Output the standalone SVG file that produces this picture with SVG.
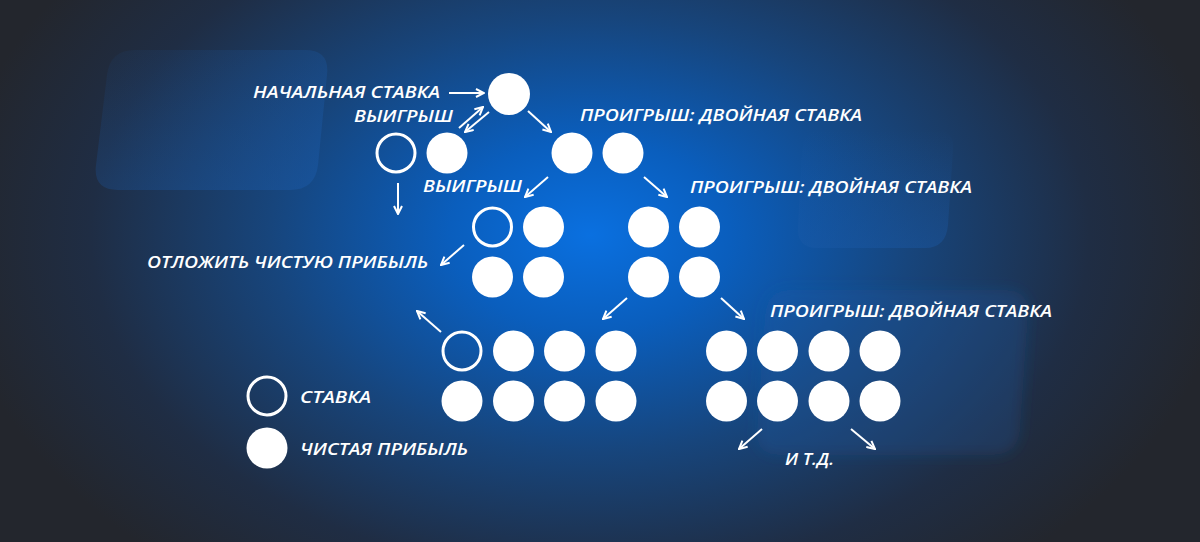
<svg xmlns="http://www.w3.org/2000/svg" width="1200" height="542" viewBox="0 0 1200 542">
<style>
.t{font-family:"Open Sans","Liberation Sans",sans-serif;font-weight:600;font-style:italic;font-size:17px;fill:#ffffff}
.f{fill:#ffffff}
.o{fill:none;stroke:#ffffff;stroke-width:3}
.a{stroke:#ffffff;stroke-width:2;fill:none;marker-end:url(#ah)}
</style>
<defs>
<marker id="ah" viewBox="0 0 10 10" refX="9" refY="5" markerWidth="10" markerHeight="10" markerUnits="userSpaceOnUse" orient="auto">
<path d="M1,1 L9,5 L1,9" fill="none" stroke="#ffffff" stroke-width="2"/>
</marker>
<radialGradient id="glow" cx="590" cy="235" r="640" gradientUnits="userSpaceOnUse" gradientTransform="translate(590 235) scale(1 0.68) translate(-590 -235)">
<stop offset="0" stop-color="#0a70e0"/>
<stop offset="0.22" stop-color="#0a5ebd"/>
<stop offset="0.5" stop-color="#17457c"/>
<stop offset="0.78" stop-color="#1f2d44"/>
<stop offset="1" stop-color="#23262d"/>
</radialGradient>
<linearGradient id="sh" x1="0" y1="0" x2="1" y2="1">
<stop offset="0" stop-color="#1b5aa8" stop-opacity="0.05"/>
<stop offset="1" stop-color="#1b5aa8" stop-opacity="0.5"/>
</linearGradient>
<linearGradient id="sh2" x1="0" y1="0" x2="0" y2="1">
<stop offset="0" stop-color="#1b5aa8" stop-opacity="0"/>
<stop offset="1" stop-color="#1b5aa8" stop-opacity="0.4"/>
</linearGradient>
<filter id="bl" x="-20%" y="-20%" width="140%" height="140%"><feGaussianBlur stdDeviation="7"/></filter>
</defs>
<rect width="1200" height="542" fill="#23262d"/>
<rect width="1200" height="542" fill="url(#glow)"/>
<g id="bg-shapes">
<path fill="url(#sh)" d="M135,50 L305,50 Q330,50 327,75 L318,165 Q315,190 290,190 L118,190 Q93,190 96,165 L107,75 Q110,50 135,50 Z"/>
<path fill="url(#sh2)" d="M820,130 L935,130 Q955,130 953,150 L948,225 Q946,248 925,248 L818,248 Q796,248 798,226 L802,150 Q804,130 820,130 Z"/>
<path fill="#1b5aa8" fill-opacity="0.25" filter="url(#bl)" d="M790,290 L1005,290 Q1030,290 1028,315 L1020,430 Q1018,455 992,455 L780,455 Q755,455 757,430 L765,315 Q767,290 790,290 Z"/>
</g>
<g id="connectors">
<line class="a" x1="449" y1="93" x2="484" y2="93"/>
<line class="a" x1="459" y1="128" x2="483" y2="107"/>
<line class="a" x1="489" y1="112" x2="465" y2="132"/>
<line class="a" x1="528" y1="111" x2="551" y2="132"/>
<line class="a" x1="398" y1="183" x2="398" y2="214"/>
<line class="a" x1="548" y1="177" x2="525" y2="197"/>
<line class="a" x1="644" y1="177" x2="667" y2="197"/>
<line class="a" x1="464" y1="245" x2="441" y2="265"/>
<line class="a" x1="627" y1="298" x2="603" y2="319"/>
<line class="a" x1="721" y1="298" x2="744" y2="319"/>
<line class="a" x1="441" y1="332" x2="417" y2="311"/>
<line class="a" x1="762" y1="429" x2="739" y2="449"/>
<line class="a" x1="851" y1="429" x2="875" y2="449"/>
</g>
<g id="node-start"><circle class="f" cx="509" cy="94" r="21"/></g>
<g id="node-win1"><circle class="o" cx="396" cy="153" r="19"/><circle class="f" cx="447" cy="153" r="20.5"/></g>
<g id="node-loss1"><circle class="f" cx="572" cy="153" r="20.5"/><circle class="f" cx="623" cy="153" r="20.5"/></g>
<g id="node-win2"><circle class="o" cx="492.5" cy="227" r="19"/><circle class="f" cx="543.5" cy="227" r="20.5"/><circle class="f" cx="492.5" cy="277" r="20.5"/><circle class="f" cx="543.5" cy="277" r="20.5"/></g>
<g id="node-loss2"><circle class="f" cx="648.5" cy="227" r="20.5"/><circle class="f" cx="699.5" cy="227" r="20.5"/><circle class="f" cx="648.5" cy="277" r="20.5"/><circle class="f" cx="699.5" cy="277" r="20.5"/></g>
<g id="node-win3"><circle class="o" cx="462" cy="351" r="19"/><circle class="f" cx="513.5" cy="351" r="20.5"/><circle class="f" cx="564.5" cy="351" r="20.5"/><circle class="f" cx="616" cy="351" r="20.5"/><circle class="f" cx="462" cy="401" r="20.5"/><circle class="f" cx="513.5" cy="401" r="20.5"/><circle class="f" cx="564.5" cy="401" r="20.5"/><circle class="f" cx="616" cy="401" r="20.5"/></g>
<g id="node-loss3"><circle class="f" cx="726.5" cy="351" r="20.5"/><circle class="f" cx="777.5" cy="351" r="20.5"/><circle class="f" cx="829" cy="351" r="20.5"/><circle class="f" cx="880" cy="351" r="20.5"/><circle class="f" cx="726.5" cy="401" r="20.5"/><circle class="f" cx="777.5" cy="401" r="20.5"/><circle class="f" cx="829" cy="401" r="20.5"/><circle class="f" cx="880" cy="401" r="20.5"/></g>
<g id="legend"><circle class="o" cx="267" cy="396" r="19"/><circle class="f" cx="267" cy="448" r="20.5"/>
<text class="t" x="300" y="403" textLength="71" lengthAdjust="spacingAndGlyphs">СТАВКА</text>
<text class="t" x="300" y="455" textLength="168" lengthAdjust="spacingAndGlyphs">ЧИСТАЯ ПРИБЫЛЬ</text></g>
<g id="labels">
<text class="t" x="253" y="98" textLength="187" lengthAdjust="spacingAndGlyphs">НАЧАЛЬНАЯ СТАВКА</text>
<text class="t" x="354" y="122" textLength="99" lengthAdjust="spacingAndGlyphs">ВЫИГРЫШ</text>
<text class="t" x="580" y="121" textLength="282" lengthAdjust="spacingAndGlyphs">ПРОИГРЫШ: ДВОЙНАЯ СТАВКА</text>
<text class="t" x="423" y="192" textLength="99" lengthAdjust="spacingAndGlyphs">ВЫИГРЫШ</text>
<text class="t" x="690" y="193" textLength="282" lengthAdjust="spacingAndGlyphs">ПРОИГРЫШ: ДВОЙНАЯ СТАВКА</text>
<text class="t" x="147" y="268" textLength="281" lengthAdjust="spacingAndGlyphs">ОТЛОЖИТЬ ЧИСТУЮ ПРИБЫЛЬ</text>
<text class="t" x="770" y="317" textLength="282" lengthAdjust="spacingAndGlyphs">ПРОИГРЫШ: ДВОЙНАЯ СТАВКА</text>
<text class="t" x="785" y="465" textLength="49" lengthAdjust="spacingAndGlyphs">И Т.Д.</text>
</g>
</svg>
